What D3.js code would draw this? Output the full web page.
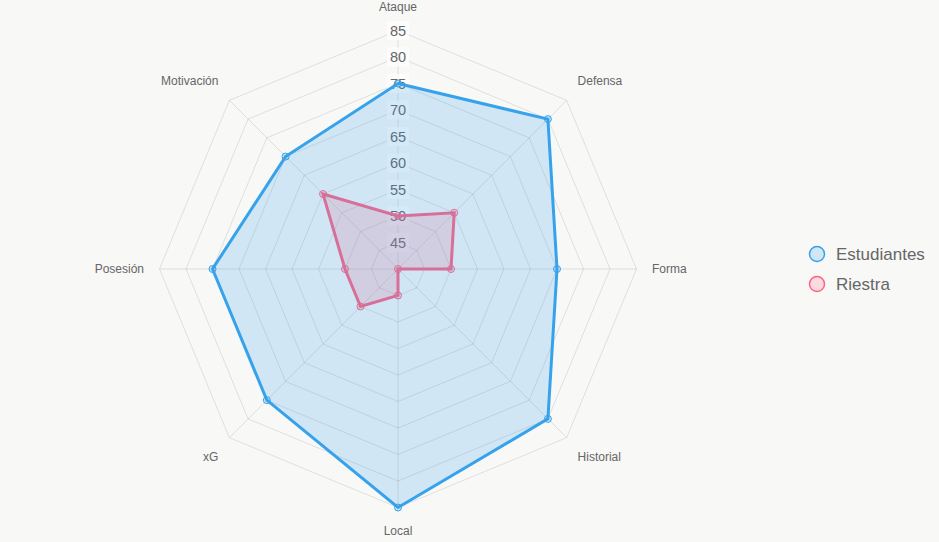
<!DOCTYPE html>
<html>
<head>
<meta charset="utf-8">
<script src="https://cdn.jsdelivr.net/npm/d3@7"></script>
<style>
  html, body { margin: 0; padding: 0; background: #f8f8f7; }
  svg { display: block; font-family: "Liberation Sans", Arial, sans-serif; }
</style>
</head>
<body>
<div id="chart"></div>
<script>
var width = 939,
    height = 542;

// data
var axesLabels = ['Ataque', 'Defensa', 'Forma', 'Historial', 'Local', 'xG', 'Posesión', 'Motivación'];
var estudiantes = [75, 80, 70, 80, 85, 75, 75, 70];
var riestra = [50, 55, 50, 40, 45, 50, 50, 60];
var tickValues = [45, 50, 55, 60, 65, 70, 75, 80, 85];
var seriesNames = ['Estudiantes', 'Riestra'];

var cx = 398, cy = 269;

var svg = d3.select('#chart').append('svg')
    .attr('width', width)
    .attr('height', height);

svg.append('rect')
    .attr('width', width)
    .attr('height', height)
    .attr('fill', '#f8f8f7');

var rScale = d3.scaleLinear()
    .domain([40, 85])
    .range([0, 238.5]);

var angle = function(i) { return i * 2 * Math.PI / axesLabels.length; };
var px = function(i, v) { return cx + rScale(v) * Math.sin(angle(i)); };
var py = function(i, v) { return cy - rScale(v) * Math.cos(angle(i)); };

var g = svg.append('g');

// grid rings
g.selectAll('.ring')
    .data(tickValues)
    .enter().append('polygon')
    .attr('class', 'ring')
    .attr('points', function(t) {
        return axesLabels.map(function(d, i) { return px(i, t) + ',' + py(i, t); }).join(' ');
    })
    .attr('fill', 'none')
    .attr('stroke', 'rgba(0,0,0,0.1)')
    .attr('stroke-width', 1);

// angle lines
g.selectAll('.spoke')
    .data(axesLabels)
    .enter().append('line')
    .attr('x1', cx).attr('y1', cy)
    .attr('x2', function(d, i) { return px(i, 85); })
    .attr('y2', function(d, i) { return py(i, 85); })
    .attr('stroke', 'rgba(0,0,0,0.1)')
    .attr('stroke-width', 1);

// tick labels with backdrop
var tick = g.selectAll('.tick')
    .data(tickValues)
    .enter().append('g')
    .attr('class', 'tick')
    .attr('transform', function(t) { return 'translate(' + cx + ',' + (cy - rScale(t)) + ')'; });

tick.append('rect')
    .attr('x', -11).attr('y', -9.5)
    .attr('width', 22).attr('height', 19)
    .attr('fill', 'rgba(255,255,255,0.75)');

tick.append('text')
    .attr('text-anchor', 'middle')
    .attr('dy', '0.36em')
    .attr('font-size', '14.5px')
    .attr('fill', '#666')
    .text(function(t) { return t; });

// series (Riestra drawn first so Estudiantes sits on top)
var series = [
    { name: 'Riestra', values: riestra, line: 'rgb(255,99,132)', fill: 'rgba(255,99,132,0.2)' },
    { name: 'Estudiantes', values: estudiantes, line: 'rgb(54,162,235)', fill: 'rgba(54,162,235,0.2)' }
];

var radarLine = function(vals) {
    return vals.map(function(v, i) { return px(i, v) + ',' + py(i, v); }).join(' ');
};

series.forEach(function(s) {
    var sg = g.append('g');
    sg.append('polygon')
        .attr('points', radarLine(s.values))
        .attr('fill', s.fill)
        .attr('stroke', s.line)
        .attr('stroke-width', 3)
        .attr('stroke-linejoin', 'miter');
    sg.selectAll('circle')
        .data(s.values)
        .enter().append('circle')
        .attr('cx', function(v, i) { return px(i, v); })
        .attr('cy', function(v, i) { return py(i, v); })
        .attr('r', 3.5)
        .attr('fill', s.fill)
        .attr('stroke', s.line)
        .attr('stroke-width', 1);
});

// point labels
var labelR = 254;
g.selectAll('.plabel')
    .data(axesLabels)
    .enter().append('text')
    .attr('class', 'plabel')
    .attr('font-size', '12px')
    .attr('fill', '#666')
    .attr('x', function(d, i) { return cx + labelR * Math.sin(angle(i)); })
    .attr('y', function(d, i) {
        var c = Math.cos(angle(i)), y = cy - labelR * c;
        if (c > 0.01) return y - 4;
        if (c < -0.01) return y + 12;
        return y + 4;
    })
    .attr('text-anchor', function(d, i) {
        var s = Math.sin(angle(i));
        if (s > 0.01) return 'start';
        if (s < -0.01) return 'end';
        return 'middle';
    })
    .text(function(d) { return d; });

// legend
var legendColors = {
    'Estudiantes': { line: 'rgb(54,162,235)', fill: 'rgba(54,162,235,0.2)' },
    'Riestra': { line: 'rgb(255,99,132)', fill: 'rgba(255,99,132,0.2)' }
};

var legend = svg.selectAll('.legend')
    .data(seriesNames)
    .enter().append('g')
    .attr('class', 'legend')
    .attr('transform', function(d, i) { return 'translate(817,' + (254 + i * 30) + ')'; });

legend.append('circle')
    .attr('r', 7.5)
    .attr('fill', function(d) { return legendColors[d].fill; })
    .attr('stroke', function(d) { return legendColors[d].line; })
    .attr('stroke-width', 1.5);

legend.append('text')
    .attr('x', 19)
    .attr('dy', '0.36em')
    .attr('font-size', '17px')
    .attr('fill', '#666')
    .text(function(d) { return d; });
</script>
</body>
</html>
